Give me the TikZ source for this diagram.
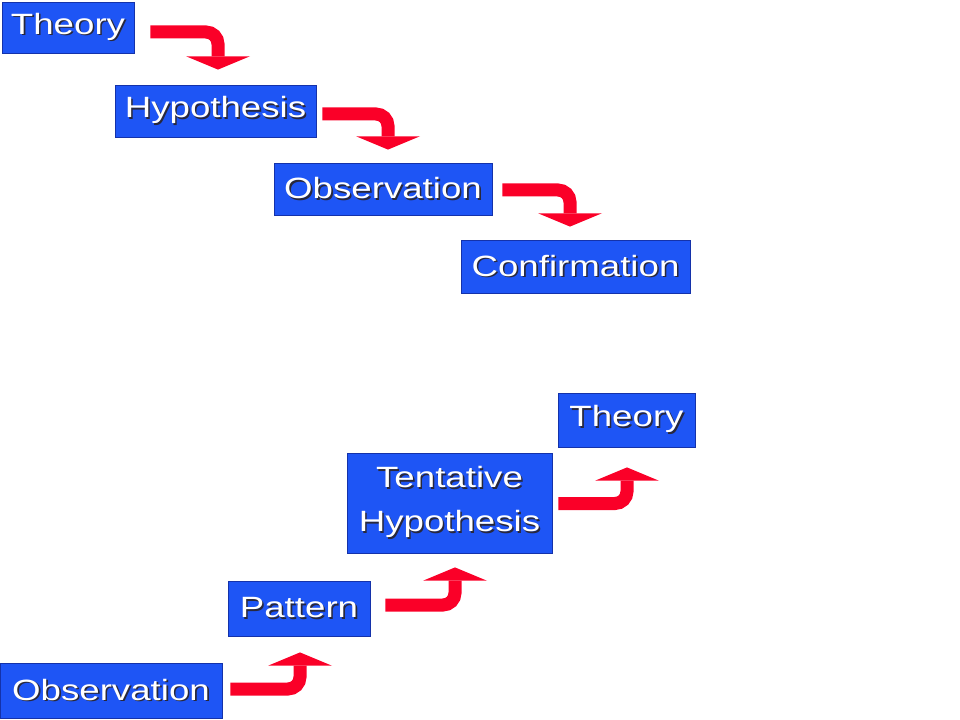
\documentclass[tikz,border=0pt]{standalone}
\usepackage{fontspec}
\usepackage{tikz}
\usetikzlibrary{arrows.meta}
\newfontfamily\boxfont{Liberation Sans}[FakeStretch=1.25]
\definecolor{boxblue}{RGB}{30,85,245}
\definecolor{boxedge}{RGB}{20,50,170}
\definecolor{arrowred}{RGB}{250,0,40}
\definecolor{shadowgray}{RGB}{40,40,60}
\newcommand\txtshadow[1]{\rlap{\kern1.2pt\raisebox{-1.2pt}{\color{shadowgray}#1}}#1}
\tikzset{
  stepbox/.style={fill=boxblue, draw=boxedge, line width=0.6pt, text=white, inner sep=0pt,
    minimum height=39pt, font=\boxfont\fontsize{22}{33}\selectfont, align=center},
  bentarrow/.style={draw=arrowred, line width=9.75pt, rounded corners=9pt,
    -{Triangle[width=48pt,length=10pt,line width=0pt]}}
}

\begin{document}
\begin{tikzpicture}[x=0.75pt,y=-0.75pt]
                \useasboundingbox (0,0) rectangle (960,720);
                \node[stepbox, minimum width=99pt, minimum height=38.25pt] (theory) at (68,27.5) {\txtshadow{Theory}};
                \node[stepbox, minimum width=150.75pt] (hypothesis) at (215.5,111) {\txtshadow{Hypothesis}};
                \node[stepbox, minimum width=163.5pt] (observation) at (383,189) {\txtshadow{Observation}};
                \node[stepbox, minimum width=171.75pt, minimum height=39.75pt] (confirmation) at (575.5,266.5) {\txtshadow{Confirmation}};
                \draw[bentarrow] ([shift={(16,4.5)}]theory.east) -| ([shift={(2.5,-15)}]hypothesis.north);
                \draw[bentarrow] ([shift={(6,3)}]hypothesis.east) -| ([shift={(5,-13)}]observation.north);
                \draw[bentarrow] ([shift={(10,1)}]observation.east) -| ([shift={(-5.5,-13)}]confirmation.north);
                \node[stepbox, minimum width=166.5pt, minimum height=41.25pt] (obs) at (111,690.5) {\txtshadow{Observation}};
                \node[stepbox, minimum width=106.5pt, minimum height=41.25pt] (pattern) at (299,608.5) {\txtshadow{Pattern}};
                \node[stepbox, minimum width=153.75pt, minimum height=75pt] (tentative) at (449.5,503) {\txtshadow{Tentative}\\\txtshadow{Hypothesis}};
                \node[stepbox, minimum width=102.75pt, minimum height=40.5pt] (theorytwo) at (626.5,420) {\txtshadow{Theory}};
                \draw[bentarrow] ([shift={(8,-1.5)}]obs.east) -| ([shift={(1,16)}]pattern.south);
                \draw[bentarrow] ([shift={(15,-3.5)}]pattern.east) -| ([shift={(5.5,14)}]tentative.south);
                \draw[bentarrow] ([shift={(6,0.5)}]tentative.east) -| ([shift={(0.5,20)}]theorytwo.south);
              \end{tikzpicture}
\end{document}
